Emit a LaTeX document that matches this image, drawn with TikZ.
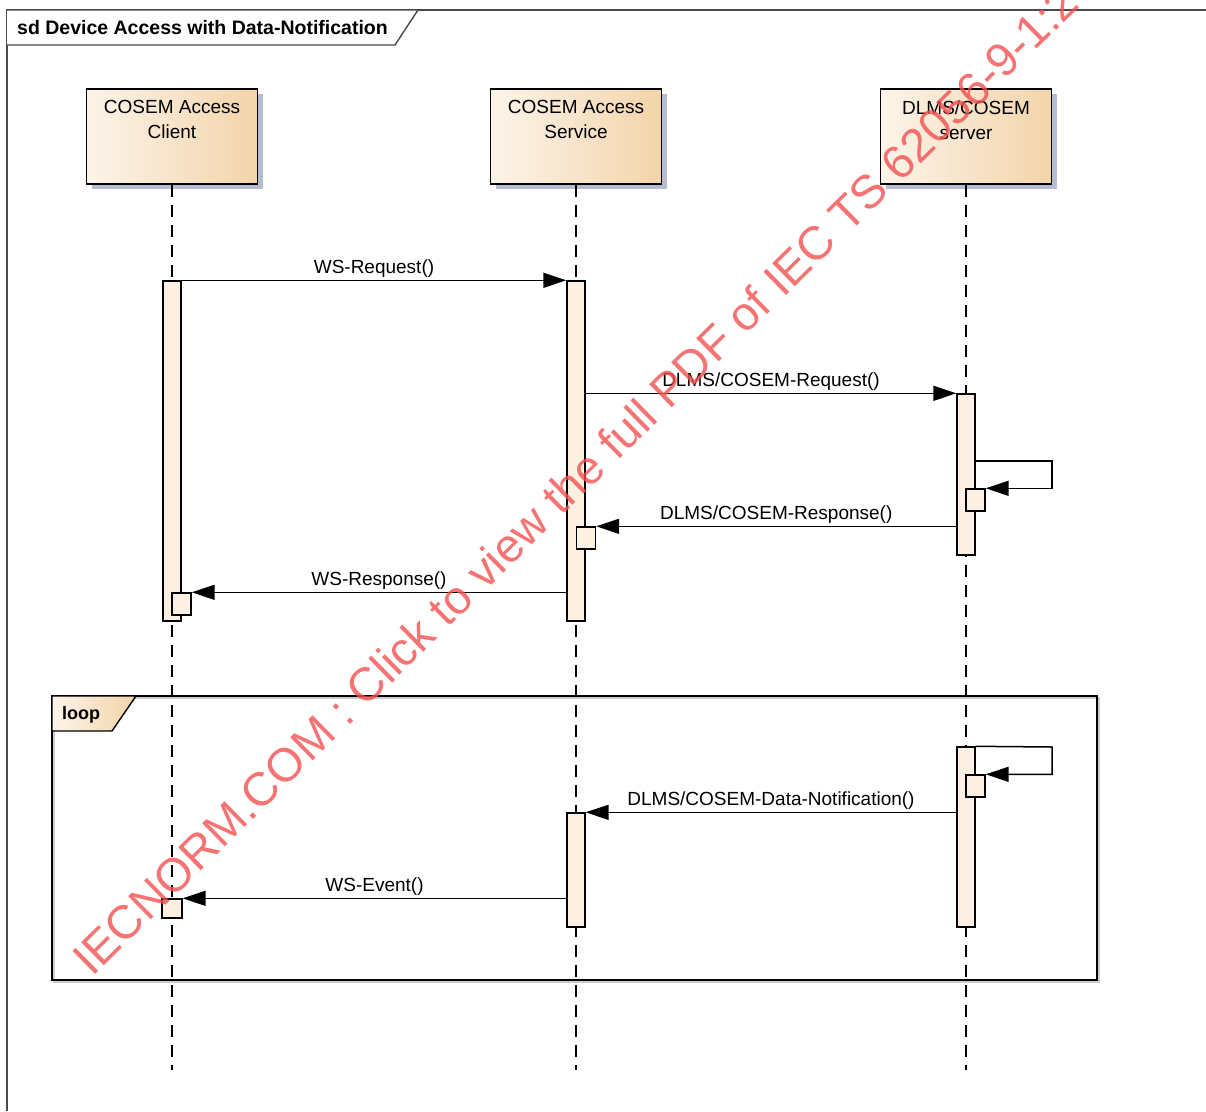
\documentclass[tikz,border=0pt]{standalone}
\usepackage{fontspec}
\setmainfont{Liberation Sans}
\usetikzlibrary{arrows.meta,shadows}
\definecolor{headL}{HTML}{FCF4EA}
\definecolor{headR}{HTML}{F3D4AA}
\definecolor{actfill}{HTML}{FBF0E2}
\definecolor{shadowblue}{HTML}{B6BDCE}
\definecolor{wmred}{HTML}{F25050}
\definecolor{framegray}{HTML}{4A4A4A}
\tikzset{
  head/.style={draw, line width=1.6pt, minimum width=171pt, minimum height=95pt, left color=headL, right color=headR,
    drop shadow={shadow xshift=5pt, shadow yshift=-5pt, fill=shadowblue, opacity=1}},
  headlbl/.style={align=center, anchor=north, font=\fontsize{19}{25}\selectfont, inner sep=0pt, yshift=-12pt},
  life/.style={line width=1.6pt, dash pattern=on 12pt off 8pt},
  act/.style={draw, line width=1.4pt, fill=actfill, minimum width=18pt, inner sep=0pt},
  ret/.style={act, minimum width=19pt, minimum height=22pt},
  msg/.style={line width=1.5pt, -{Triangle[length=23pt,width=15pt]}},
  lbl/.style={font=\fontsize{19}{22}\selectfont, above, inner sep=2pt},
  wm/.style={text=wmred, text opacity=0.8, font=\fontsize{47}{47}\selectfont, inner sep=0pt}
}
\begin{document}
\begin{tikzpicture}[x=1pt,y=-1pt]
  \useasboundingbox (0,0) rectangle (1206,1111);
  \draw[framegray, line width=1.4pt] (7,1111) -- (7,10) -- (1206,10);
  \draw[framegray, line width=1.4pt, fill=white] (7,10) -- (418,10) -- (395,45) -- (7,45);
  \node[anchor=west, font=\bfseries\fontsize{19.5}{22}\selectfont, inner sep=0pt] (title) at (17,28) {sd Device Access with Data-Notification};
  % loop fragment
  \draw[gray!40, line width=1.6pt] (54,698) rectangle (1099,982);
  \draw[line width=1.6pt] (52,696) rectangle (1097,980);
  \shadedraw[line width=1.4pt, left color=headL, right color=headR] (52,696) -- (136,696) -- (112,731) -- (52,731) -- cycle;
  \node[anchor=west, font=\bfseries\fontsize{18}{22}\selectfont, inner sep=0pt] (loopT) at (62,715) {loop};
  % lifelines
  \node[head, label={[headlbl]north:{COSEM Access\\Client}}] (cli) at (172,136.5) {};
  \node[head, label={[headlbl]north:{COSEM Access\\Service}}] (srv) at (576,136.5) {};
  \node[head, label={[headlbl]north:{DLMS/COSEM\\server}}] (dev) at (966,136.5) {};
  \foreach \n in {cli,srv,dev} \draw[life] (\n.south) -- (\n.south |- 0,1070);
  % activations
  \node[act, minimum height=340pt] (cA) at (172,451) {};
  \node[act, minimum height=340pt] (sA) at (576,451) {};
  \node[act, minimum height=161pt] (vA) at (966,474.5) {};
  \node[ret] (vR) at (975.5,500) {};
  \node[ret] (sR) at (586,538) {};
  \node[ret] (cR) at (181.5,604) {};
  \node[act, minimum height=180pt] (vL) at (966,837) {};
  \node[ret] (vLR) at (975.5,786) {};
  \node[act, minimum height=114pt] (sL) at (576,870) {};
  \node[ret, minimum width=20pt, minimum height=19pt] (cE) at (172,908.5) {};
  % messages
  \draw[msg] (cA.north east) -- node[lbl] {WS-Request()} (sA.north west);
  \draw[msg] (sA.east |- vA.north) -- node[lbl] {DLMS/COSEM-Request()} (vA.north west);
  \coordinate (selfA) at (1052,461);
  \draw[msg] (vA.east |- selfA) -- (selfA) |- (vR.north east);
  \draw[msg] (vA.west |- sR.north) -- node[lbl] {DLMS/COSEM-Response()} (sR.north east);
  \draw[msg] (sA.west |- cR.north) -- node[lbl] {WS-Response()} (cR.north east);
  \coordinate (selfL) at (1052,747);
  \draw[msg] (vL.north east) -- (selfL) |- (vLR.north east);
  \draw[msg] (vL.west |- sL.north) -- node[lbl] {DLMS/COSEM-Data-Notification()} (sL.north east);
  \draw[msg] (sL.west |- cE.north) -- node[lbl] {WS-Event()} (cE.north east);
  % watermark
  \begin{scope}
    \clip (0,0) rectangle (1206,1111);
    \node[wm, rotate=44.5, anchor=base west] (wmark) at (92,978) {IECNORM.COM : Click to view the full PDF of IEC TS 62056-9-1:2016};
  \end{scope}
\end{tikzpicture}
\end{document}
